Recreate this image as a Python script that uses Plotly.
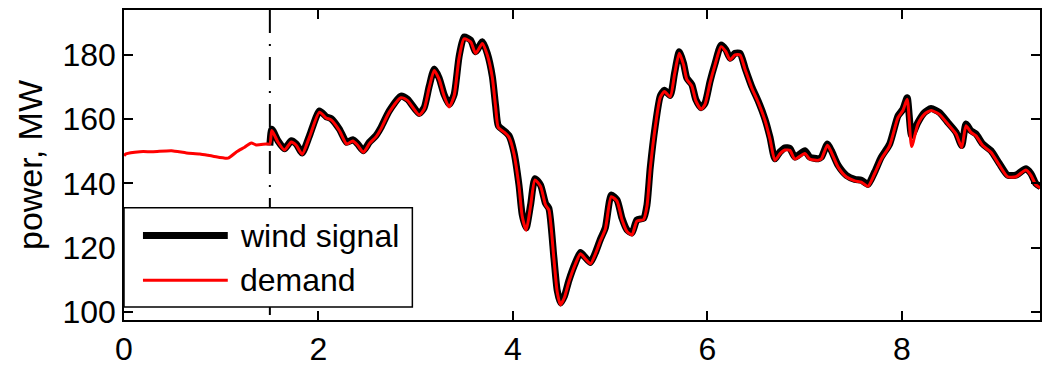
import plotly.graph_objects as go

# wind signal (starts at the switch-over time t = 1.5)
wind_t = [1.500, 1.520, 1.583, 1.651, 1.720, 1.771, 1.832, 1.908, 2.010, 2.079,
          2.130, 2.215, 2.290, 2.352, 2.403, 2.462, 2.523, 2.591, 2.642, 2.728,
          2.848, 2.916, 3.036, 3.087, 3.138, 3.190, 3.241, 3.292, 3.344, 3.395,
          3.446, 3.497, 3.565, 3.617, 3.685, 3.736, 3.788, 3.822, 3.849, 3.908,
          3.959, 4.010, 4.062, 4.095, 4.136, 4.181, 4.226, 4.284, 4.335, 4.369,
          4.421, 4.455, 4.489, 4.530, 4.574, 4.643, 4.694, 4.746, 4.797, 4.848,
          4.899, 4.950, 5.011, 5.070, 5.121, 5.172, 5.224, 5.275, 5.344, 5.378,
          5.412, 5.463, 5.515, 5.558, 5.617, 5.662, 5.710, 5.754, 5.788, 5.839,
          5.880, 5.935, 5.976, 6.027, 6.079, 6.140, 6.188, 6.233, 6.284, 6.335,
          6.387, 6.455, 6.523, 6.592, 6.643, 6.694, 6.745, 6.797, 6.848, 6.899,
          7.002, 7.053, 7.138, 7.172, 7.234, 7.275, 7.344, 7.430, 7.515, 7.583,
          7.651, 7.720, 7.788, 7.874, 7.959, 8.010, 8.054, 8.100, 8.164, 8.232,
          8.300, 8.386, 8.472, 8.557, 8.615, 8.659, 8.710, 8.762, 8.831, 8.916,
          9.002, 9.087, 9.172, 9.275, 9.326, 9.377, 9.425]
wind_mw = [151.8, 156.9, 153.3, 150.8, 153.3, 152.3, 149.5, 154.9, 162.6, 160.8,
           160.2, 156.9, 152.8, 153.6, 152.3, 150.2, 152.8, 154.9, 157.4, 162.6,
           167.2, 166.2, 161.8, 163.6, 170.2, 175.6, 172.8, 167.7, 164.6, 167.7,
           179.5, 185.6, 184.6, 181.0, 184.1, 180.5, 173.3, 164.1, 158.0, 156.4,
           154.9, 149.8, 139.5, 130.3, 126.2, 133.3, 141.5, 139.5, 133.8, 132.3,
           116.9, 106.7, 102.8, 105.0, 109.7, 115.4, 118.5, 116.9, 115.4, 118.5,
           122.6, 126.2, 136.4, 134.9, 129.2, 125.6, 124.6, 128.7, 129.2, 133.3,
           145.0, 157.9, 167.2, 169.0, 167.4, 174.4, 181.0, 177.4, 172.8, 170.8,
           166.2, 163.6, 165.1, 171.8, 177.4, 183.1, 181.7, 179.0, 180.5, 180.5,
           175.9, 170.2, 165.6, 160.0, 154.4, 147.7, 149.8, 151.1, 150.9, 148.2,
           150.2, 148.2, 147.7, 148.2, 152.3, 150.2, 145.6, 142.5, 141.3, 141.0,
           139.7, 143.6, 148.2, 152.3, 161.0, 163.1, 166.7, 154.9, 159.0, 162.1,
           163.3, 162.1, 159.0, 155.9, 151.8, 158.5, 156.4, 155.4, 152.3, 150.2,
           146.2, 142.6, 142.6, 144.6, 143.1, 140.0, 139.0]

# demand over the whole horizon
demand_t = [0.000, 0.020, 0.164, 0.300, 0.489, 0.643, 0.780, 0.916, 1.070, 1.156,
            1.241, 1.309, 1.360, 1.463] + wind_t
demand_mw = [148.6, 149.2, 149.9, 149.9, 150.2, 149.5, 149.2, 148.5, 147.9, 149.8,
             151.3, 152.6, 152.0, 152.3,
             152.3, 156.5, 152.9, 150.4, 152.9, 151.9, 149.1, 154.5, 162.2, 160.4,
             159.8, 156.5, 152.3, 153.2, 151.9, 149.7, 152.4, 154.5, 157.0, 162.2,
             166.7, 165.8, 161.3, 163.2, 169.8, 175.2, 172.4, 167.2, 163.8, 167.3,
             179.1, 185.0, 184.1, 180.5, 183.6, 180.0, 172.9, 163.6, 157.4, 156.0,
             154.4, 149.3, 139.1, 129.8, 125.4, 132.9, 141.1, 139.1, 133.3, 131.8,
             116.5, 106.2, 102.2, 104.6, 109.3, 115.0, 118.1, 116.5, 115.0, 118.1,
             122.2, 125.8, 135.9, 134.5, 128.8, 125.1, 124.0, 128.3, 128.8, 132.9,
             144.6, 157.5, 166.8, 168.6, 167.0, 174.0, 180.5, 177.0, 172.4, 170.4,
             165.8, 163.1, 164.7, 171.4, 177.0, 182.6, 181.1, 178.5, 180.0, 180.0,
             175.5, 169.8, 165.2, 159.6, 153.9, 147.2, 149.2, 150.4, 150.3, 147.6,
             149.3, 147.6, 147.2, 147.7, 151.9, 149.7, 145.1, 142.0, 140.8, 140.4,
             139.1, 143.1, 147.6, 151.8, 160.5, 162.7, 166.2, 151.5, 158.5, 161.6,
             162.7, 161.5, 158.5, 155.4, 151.2, 158.0, 155.9, 154.8, 151.8, 149.7,
             145.7, 142.1, 142.1, 144.2, 142.6, 139.6, 138.6]

switch_t = 1.5
x_ticks = [0, 2, 4, 6, 8]
y_ticks = [100, 120, 140, 160, 180]
series_names = ["wind signal", "demand"]

FONT = "Liberation Sans, Arial, Helvetica, sans-serif"
FS = 32

fig = go.Figure()
fig.add_trace(go.Scatter(x=wind_t, y=wind_mw, mode="lines", name=series_names[0],
                         line=dict(color="black", width=7, shape="spline", smoothing=0.6),
                         showlegend=False))
fig.add_trace(go.Scatter(x=demand_t, y=demand_mw, mode="lines", name=series_names[1],
                         line=dict(color="#ff0000", width=3, shape="spline", smoothing=0.6),
                         showlegend=False))

shapes = [
    # dash-dot marker of the switch-over time
    dict(type="line", xref="x", yref="paper", x0=switch_t, x1=switch_t, y0=1, y1=0,
         line=dict(color="black", width=2, dash="23px,11px,2px,11px"), layer="below"),
    # legend frame and samples
    dict(type="rect", xref="paper", yref="paper", x0=0, x1=0.3148, y0=0.0417, y1=0.3622,
         line=dict(color="black", width=1.5), fillcolor="white", layer="above"),
    dict(type="line", xref="paper", yref="paper", x0=0.0207, x1=0.1133, y0=0.2724, y1=0.2724,
         line=dict(color="black", width=7), layer="above"),
    dict(type="line", xref="paper", yref="paper", x0=0.0207, x1=0.1133, y0=0.1282, y1=0.1282,
         line=dict(color="#ff0000", width=3), layer="above"),
]
annotations = [
    dict(xref="paper", yref="paper", x=0.1242, y=0.2724, text=series_names[0], showarrow=False,
         xanchor="left", yanchor="middle", font=dict(family=FONT, size=FS, color="black")),
    dict(xref="paper", yref="paper", x=0.1242, y=0.1282, text=series_names[1], showarrow=False,
         xanchor="left", yanchor="middle", font=dict(family=FONT, size=FS, color="black")),
]

axis_common = dict(showline=True, linecolor="black", linewidth=1.5, mirror="ticks",
                   ticks="inside", ticklen=9, tickwidth=1.5, tickcolor="black",
                   showgrid=False, zeroline=False,
                   tickfont=dict(family=FONT, size=FS, color="black"))

fig.update_layout(
    width=1043, height=368,
    margin=dict(l=124, r=1, t=10, b=46),
    paper_bgcolor="white", plot_bgcolor="white",
    shapes=shapes, annotations=annotations,
    xaxis=dict(range=[0, 9.42], tickvals=x_ticks, **axis_common),
    yaxis=dict(range=[97.5, 194], tickvals=y_ticks,
               title=dict(text="power, MW", font=dict(family=FONT, size=34, color="black"),
                          standoff=10),
               **axis_common),
    showlegend=False,
)

fig.write_html("out.html")
